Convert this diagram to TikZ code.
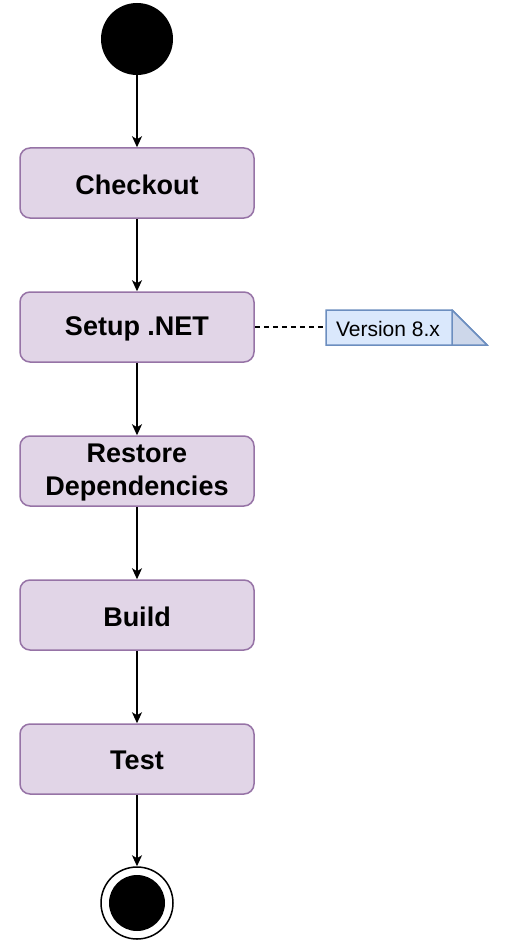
\documentclass[tikz,border=0pt]{standalone}
\usepackage{fontspec}
\setmainfont{Liberation Sans}
\usetikzlibrary{arrows.meta}
\definecolor{boxfill}{HTML}{E1D5E7}
\definecolor{boxdraw}{HTML}{9673A6}
\definecolor{notefill}{HTML}{DAE8FC}
\definecolor{notedraw}{HTML}{6C8EBF}
\definecolor{notefold}{HTML}{CDD7EA}
\begin{document}
\begin{tikzpicture}[x=1pt,y=-1pt,
  stepbox/.style={draw=boxdraw,fill=boxfill,line width=1.5pt,rounded corners=10pt,
    minimum width=234pt,minimum height=70pt,inner sep=0pt,align=center,
    font=\fontsize{27}{33}\selectfont\bfseries},
  flow/.style={line width=1.5pt,-{Stealth[length=11pt,width=10pt,inset=3pt]}}]
\useasboundingbox (0,0) rectangle (504,952);
\node[circle,fill=black,minimum size=72pt,inner sep=0pt] (start) at (137,39) {};
\node[stepbox] (checkout) at (137,183) {};
\node[stepbox] (setup) at (137,327) {};
\node[stepbox] (restore) at (137,471) {};
\node[stepbox] (build) at (137,615) {};
\node[stepbox] (test) at (137,759) {};
\node[stepbox,draw=none,fill=none] (checkoutlbl) at (137,184.5) {Checkout};
\node[stepbox,draw=none,fill=none] (setuplbl) at (137,328.5) {Setup .NET};
\node[stepbox,draw=none,fill=none] (restorelbl) at (137,472.5) {Restore\\Dependencies};
\node[stepbox,draw=none,fill=none] (buildlbl) at (137,616.5) {Build};
\node[stepbox,draw=none,fill=none] (testlbl) at (137,760.5) {Test};
\node[circle,draw=black,line width=1.5pt,fill=white,minimum size=72pt,inner sep=0pt] (end) at (137,903) {};
\fill[black] (end.center) circle (28pt);
% note
\coordinate (noteleft) at (326,327);
\filldraw[draw=notedraw,fill=notefill,line width=1.5pt] (326,310) -- (452,310) -- (487,345) -- (326,345) -- cycle;
\filldraw[draw=notedraw,fill=notefold,line width=1.5pt,line join=round] (452,310) -- (487,345) -- (452,345) -- cycle;
\node[font=\fontsize{21}{24}\selectfont,inner sep=0pt] (note) at (388,328.5) {Version 8.x};
\draw[flow] (start) -- (checkout);
\draw[flow] (checkout) -- (setup);
\draw[flow] (setup) -- (restore);
\draw[flow] (restore) -- (build);
\draw[flow] (build) -- (test);
\draw[flow] (test) -- (end);
\draw[line width=1.2pt,dash pattern=on 5pt off 4pt] (setup.east) -- (noteleft);
\end{tikzpicture}
\end{document}
